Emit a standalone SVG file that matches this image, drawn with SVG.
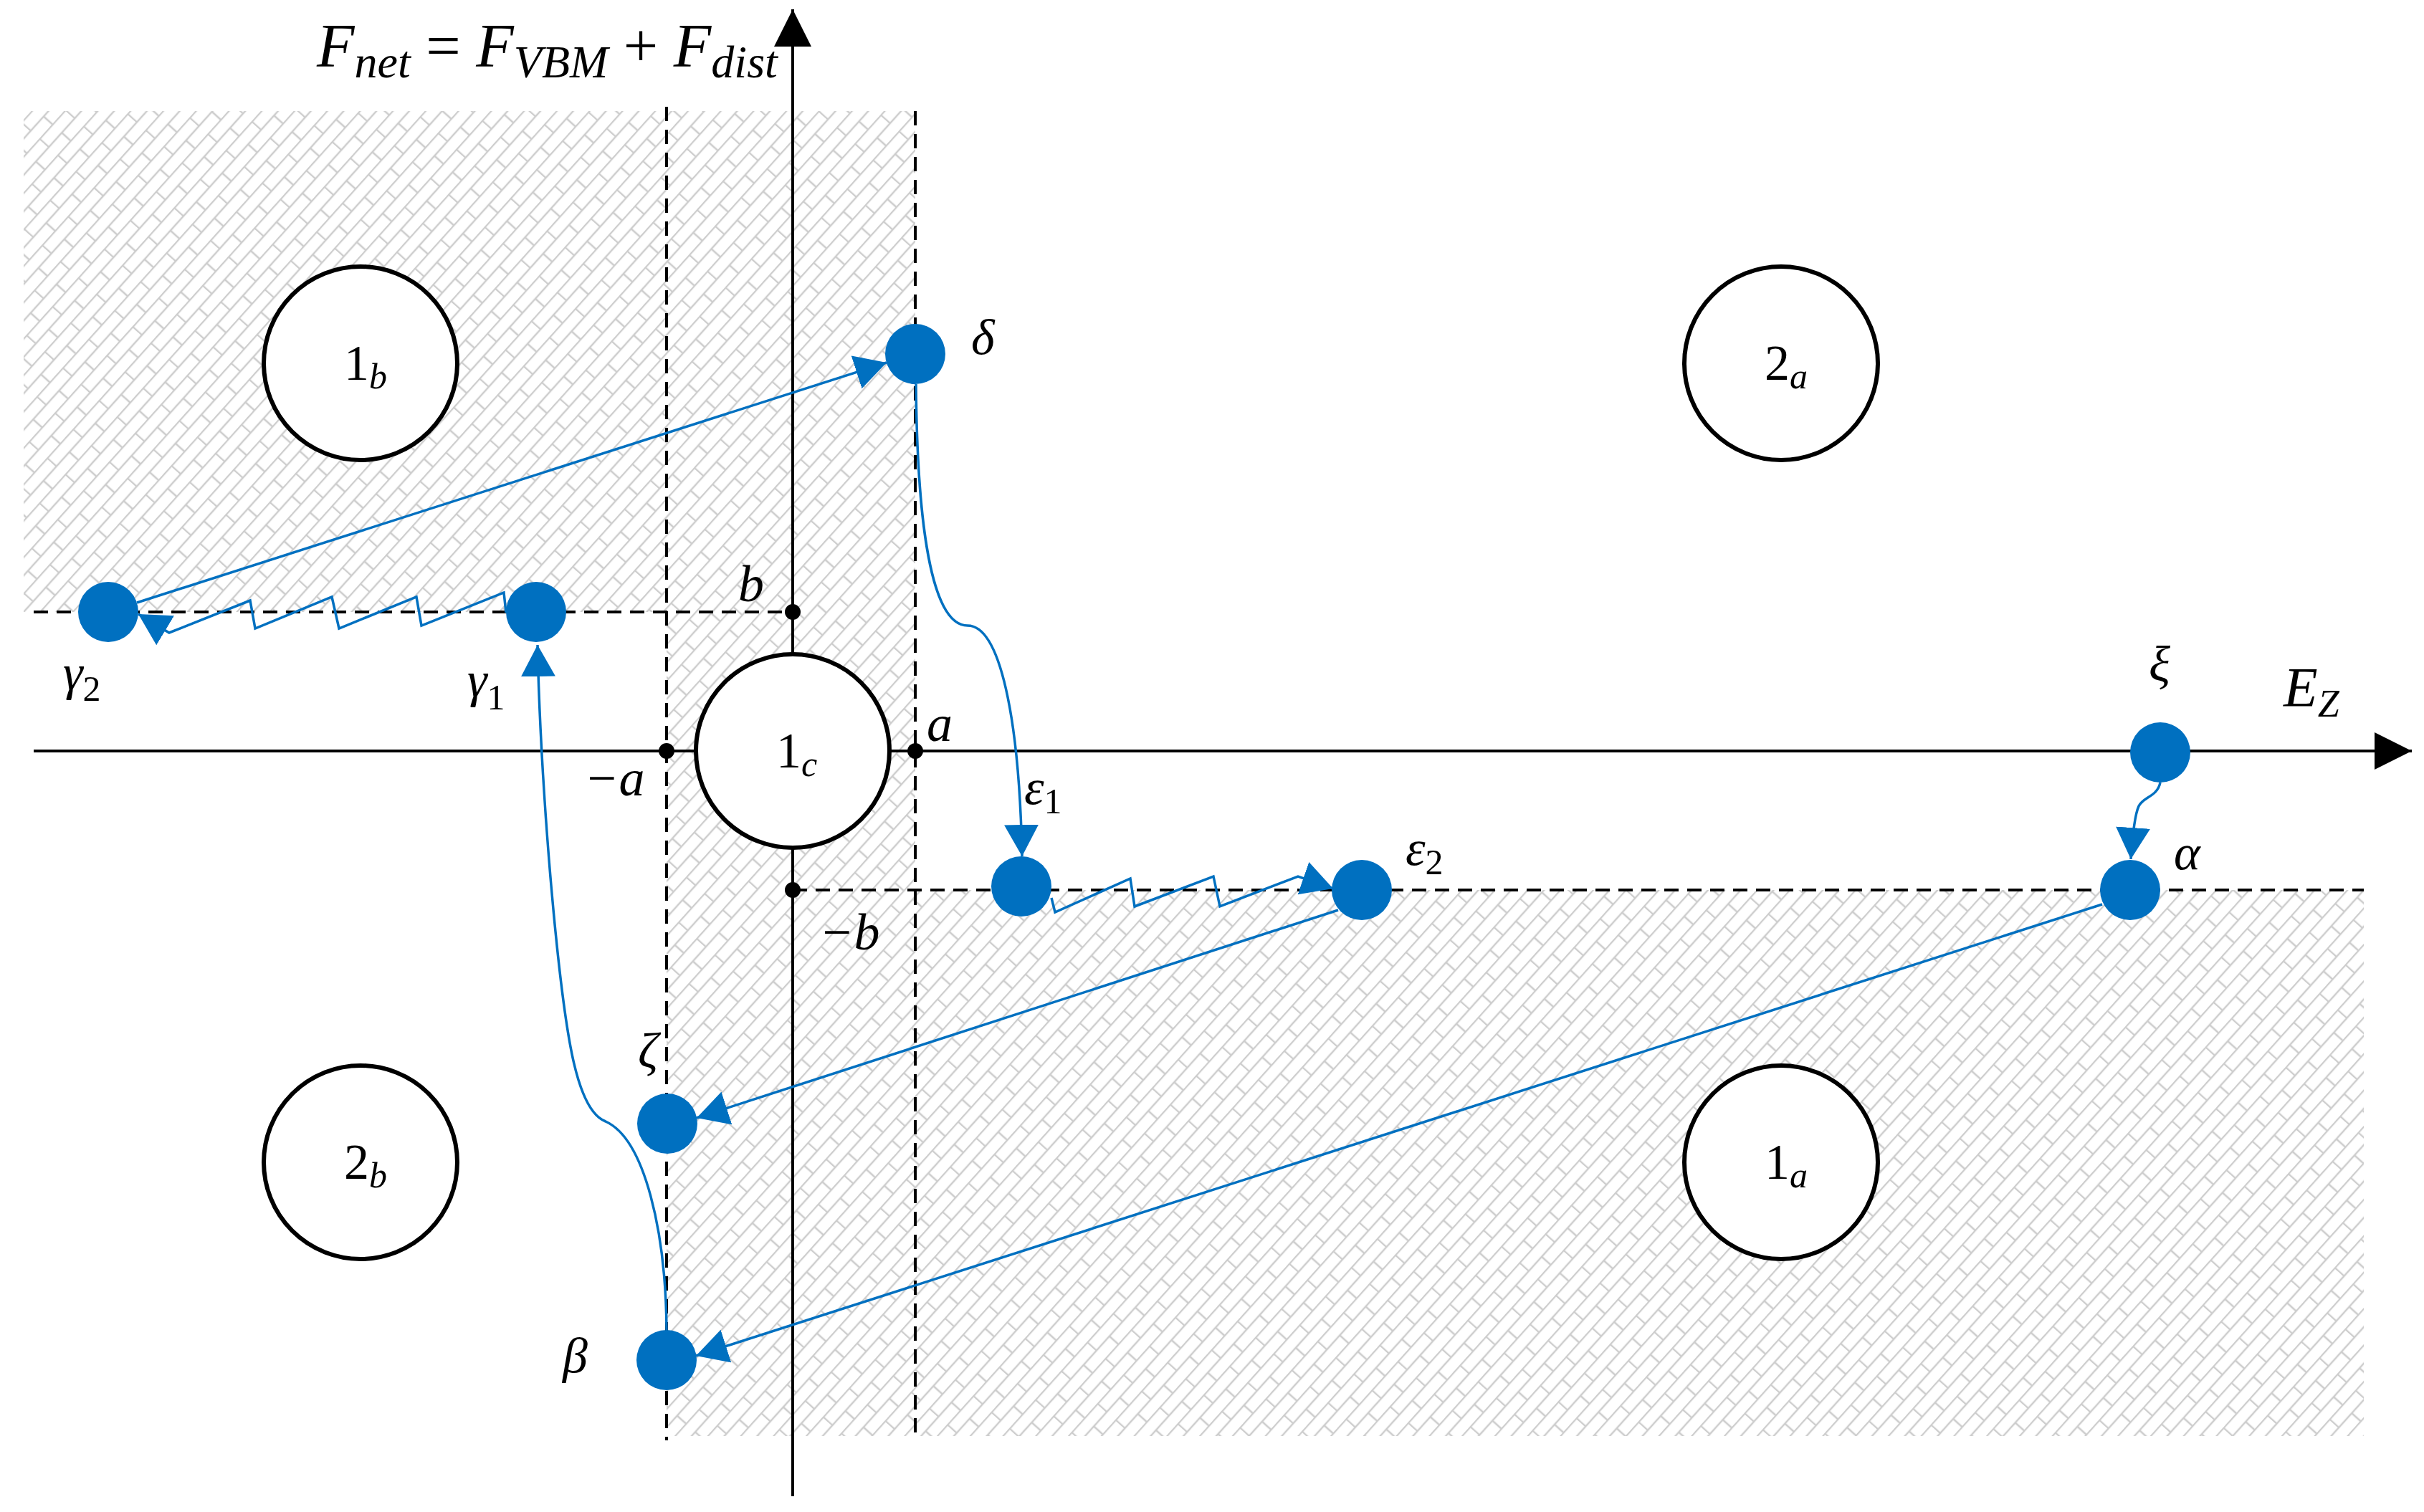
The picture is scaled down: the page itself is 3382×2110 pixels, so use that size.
<svg xmlns="http://www.w3.org/2000/svg" width="3382" height="2110" viewBox="0 0 3382 2110">
<style>
.ax{stroke:#000;stroke-width:4;fill:none}
.dash{stroke:#000;stroke-width:4;fill:none;stroke-dasharray:20 12}
.big{fill:#fff;stroke:#000;stroke-width:6}
.node{fill:#0070C0}
.dot{fill:#000}
.con{stroke:#0070C0;stroke-width:3.5;fill:none;marker-end:url(#bh)}
.m{font-family:"Liberation Serif","DejaVu Serif",serif;font-style:italic;fill:#000}
.r{font-family:"Liberation Serif","DejaVu Serif",serif;font-style:normal;fill:#000}
</style>
<defs>
<pattern id="brick" patternUnits="userSpaceOnUse" width="54" height="34" patternTransform="rotate(-48)">
<path d="M0,1 H54 M0,18 H54 M1,1 V18 M28,18 V35" stroke="#cdcdcd" stroke-width="2.6" fill="none"/>
</pattern>
<marker id="bh" markerUnits="userSpaceOnUse" markerWidth="46" markerHeight="50" refX="44" refY="25" orient="auto" viewBox="0 0 46 50">
<path d="M0,1 L44,25 L0,49 Z" fill="#0070C0"/>
</marker>
<marker id="kh" markerUnits="userSpaceOnUse" markerWidth="54" markerHeight="52" refX="52" refY="26" orient="auto" viewBox="0 0 54 52">
<path d="M0,0 L52,26 L0,52 Z" fill="#000"/>
</marker>
</defs>
<rect width="3382" height="2110" fill="#fff"/>
<g id="hatch">
<path d="M33,155 H1277 V1242 H3298 V2004 H930 V854 H33 Z" fill="url(#brick)"/>
</g>
<g id="guides">
<line class="dash" x1="930" y1="149" x2="930" y2="2010"/>
<line class="dash" x1="1277" y1="155" x2="1277" y2="2002"/>
<line class="dash" x1="47" y1="854" x2="1106" y2="854"/>
<line class="dash" x1="1106" y1="1242" x2="3298" y2="1242"/>
</g>
<g id="axes">
<line class="ax" x1="47" y1="1048" x2="3365" y2="1048" marker-end="url(#kh)"/>
<line class="ax" x1="1106" y1="2088" x2="1106" y2="13" marker-end="url(#kh)"/>
<circle class="dot" cx="1106" cy="854" r="11"/>
<circle class="dot" cx="1106" cy="1242" r="11"/>
<circle class="dot" cx="930" cy="1048" r="11"/>
<circle class="dot" cx="1277" cy="1048" r="11"/>
<text class="m" x="1030" y="839" font-size="72">b</text>
<text class="m" x="1293" y="1034" font-size="72">a</text>
<text class="m" x="815" y="1110" font-size="72">−a</text>
<text class="m" x="1143" y="1325" font-size="72">−b</text>
<text class="m" x="3186" y="985" font-size="78">E<tspan font-size="54" dy="15">Z</tspan></text>
<text class="m" x="442" y="93" font-size="86">F<tspan font-size="64" dy="15">net</tspan><tspan class="r" dy="-15"> = </tspan>F<tspan font-size="64" dy="15">VBM</tspan><tspan class="r" dy="-15"> + </tspan>F<tspan font-size="64" dy="15">dist</tspan></text>
</g>
<g id="state-1b"><circle class="big" cx="503" cy="507" r="135"/><text class="r" x="480" y="530" font-size="70">1<tspan class="m" font-size="50" dy="12">b</tspan></text></g>
<g id="state-2a"><circle class="big" cx="2485" cy="507" r="135"/><text class="r" x="2462" y="530" font-size="70">2<tspan class="m" font-size="50" dy="12">a</tspan></text></g>
<g id="state-2b"><circle class="big" cx="503" cy="1622" r="135"/><text class="r" x="480" y="1645" font-size="70">2<tspan class="m" font-size="50" dy="12">b</tspan></text></g>
<g id="state-1a"><circle class="big" cx="2485" cy="1622" r="135"/><text class="r" x="2462" y="1645" font-size="70">1<tspan class="m" font-size="50" dy="12">a</tspan></text></g>
<g id="state-1c"><circle class="big" cx="1106" cy="1048" r="135"/><text class="r" x="1083" y="1071" font-size="70">1<tspan class="m" font-size="50" dy="12">c</tspan></text></g>
<g id="node-delta"><circle class="node" cx="1277" cy="494" r="42"/><text class="m" x="1355" y="494" font-size="70">δ</text></g>
<g id="node-gamma2"><circle class="node" cx="151" cy="854" r="42"/><text class="m" x="88" y="962" font-size="70">γ<tspan class="r" font-size="50" dy="16">2</tspan></text></g>
<g id="node-gamma1"><circle class="node" cx="748" cy="854" r="42"/><text class="m" x="652" y="972" font-size="70">γ<tspan class="r" font-size="50" dy="18">1</tspan></text></g>
<g id="node-xi"><circle class="node" cx="3014" cy="1050" r="42"/><text class="m" x="2998" y="950" font-size="70">ξ</text></g>
<g id="node-eps1"><circle class="node" cx="1425" cy="1237" r="42"/><text class="m" x="1429" y="1122" font-size="70">ε<tspan class="r" font-size="50" dy="13">1</tspan></text></g>
<g id="node-eps2"><circle class="node" cx="1900" cy="1242" r="42"/><text class="m" x="1961" y="1207" font-size="70">ε<tspan class="r" font-size="50" dy="13">2</tspan></text></g>
<g id="node-alpha"><circle class="node" cx="2972" cy="1242" r="42"/><text class="m" x="3033" y="1213" font-size="70">α</text></g>
<g id="node-zeta"><circle class="node" cx="931" cy="1568" r="42"/><text class="m" x="890" y="1490" font-size="70">ζ</text></g>
<g id="node-beta"><circle class="node" cx="930" cy="1898" r="42"/><text class="m" x="785" y="1915" font-size="70">β</text></g>
<g id="connectors">
<path class="con" d="M191,841 L1237,506"/>
<path class="con" d="M706,855 L703,827 L588,873 L581,833 L473,877 L463,833 L356,877 L349,838 L236,883 L193,857"/>
<path class="con" d="M1278,536 C1280,760 1305,873 1350,873 C1395,873 1422,1000 1426,1195"/>
<path class="con" d="M1467,1253 L1472,1273 L1577,1226 L1583,1265 L1693,1223 L1702,1265 L1811,1223 L1860,1240"/>
<path class="con" d="M1867,1270 L972,1560"/>
<path class="con" d="M2933,1262 L971,1892"/>
<path class="con" d="M930,1856 C929,1720 900,1590 845,1565 C805,1550 790,1450 775,1300 C760,1150 752,1000 750,900"/>
<path class="con" d="M3014,1092 C3010,1112 2990,1112 2984,1125 C2978,1138 2975,1170 2973,1199"/>
</g>
</svg>
